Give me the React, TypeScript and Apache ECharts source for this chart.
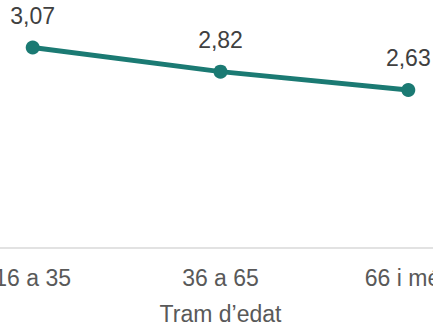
import React, { useEffect, useRef } from "react";
import * as echarts from "echarts";

const categories = ["16 a 35", "36 a 65", "66 i més"];
const values = [3.07, 2.82, 2.63];
const axisName = "Tram d’edat";

export default function App() {
  const ref = useRef<HTMLDivElement>(null);
  useEffect(() => {
    if (!ref.current) return;
    const chart = echarts.init(ref.current, null, { renderer: "svg" });
    chart.setOption({
      animation: false,
      textStyle: { fontFamily: "Liberation Sans" },
      grid: {
        left: 8.8,
        right: 27.8,
        top: 6,
        bottom: 79.7,
        containLabel: false,
        outerBoundsMode: "none",
      },
      xAxis: {
        type: "category",
        data: categories,
        boundaryGap: true,
        axisLine: { show: true, lineStyle: { color: "#d9d9d9", width: 1.5 } },
        axisTick: { show: false },
        axisLabel: { fontSize: 23, color: "#595959", margin: 19, fontFamily: "Liberation Sans", hideOverlap: false },
        splitLine: { show: false },
        name: axisName,
        nameLocation: "middle",
        nameGap: 55,
        nameTextStyle: { fontSize: 23, color: "#595959", fontFamily: "Liberation Sans" },
      },
      yAxis: {
        type: "value",
        min: 1,
        max: 3.5,
        show: false,
      },
      series: [
        {
          type: "line",
          data: values,
          symbol: "circle",
          symbolSize: 14,
          lineStyle: { color: "#1b7a73", width: 5 },
          itemStyle: { color: "#1b7a73" },
          label: {
            show: true,
            position: "top",
            distance: 13,
            fontSize: 23,
            color: "#404040",
            fontFamily: "Liberation Sans",
            formatter: (p: any) => String(p.value.toFixed(2)).replace(".", ","),
          },
        },
      ],
    });
    return () => chart.dispose();
  }, []);
  return (
    <div
      style={{ position: "absolute", left: 0, top: 0, width: 433, height: 327, overflow: "hidden" }}
    >
      <div
        ref={ref}
        style={{ position: "absolute", left: -70, top: 0, width: 600, height: 327 }}
      />
    </div>
  );
}
